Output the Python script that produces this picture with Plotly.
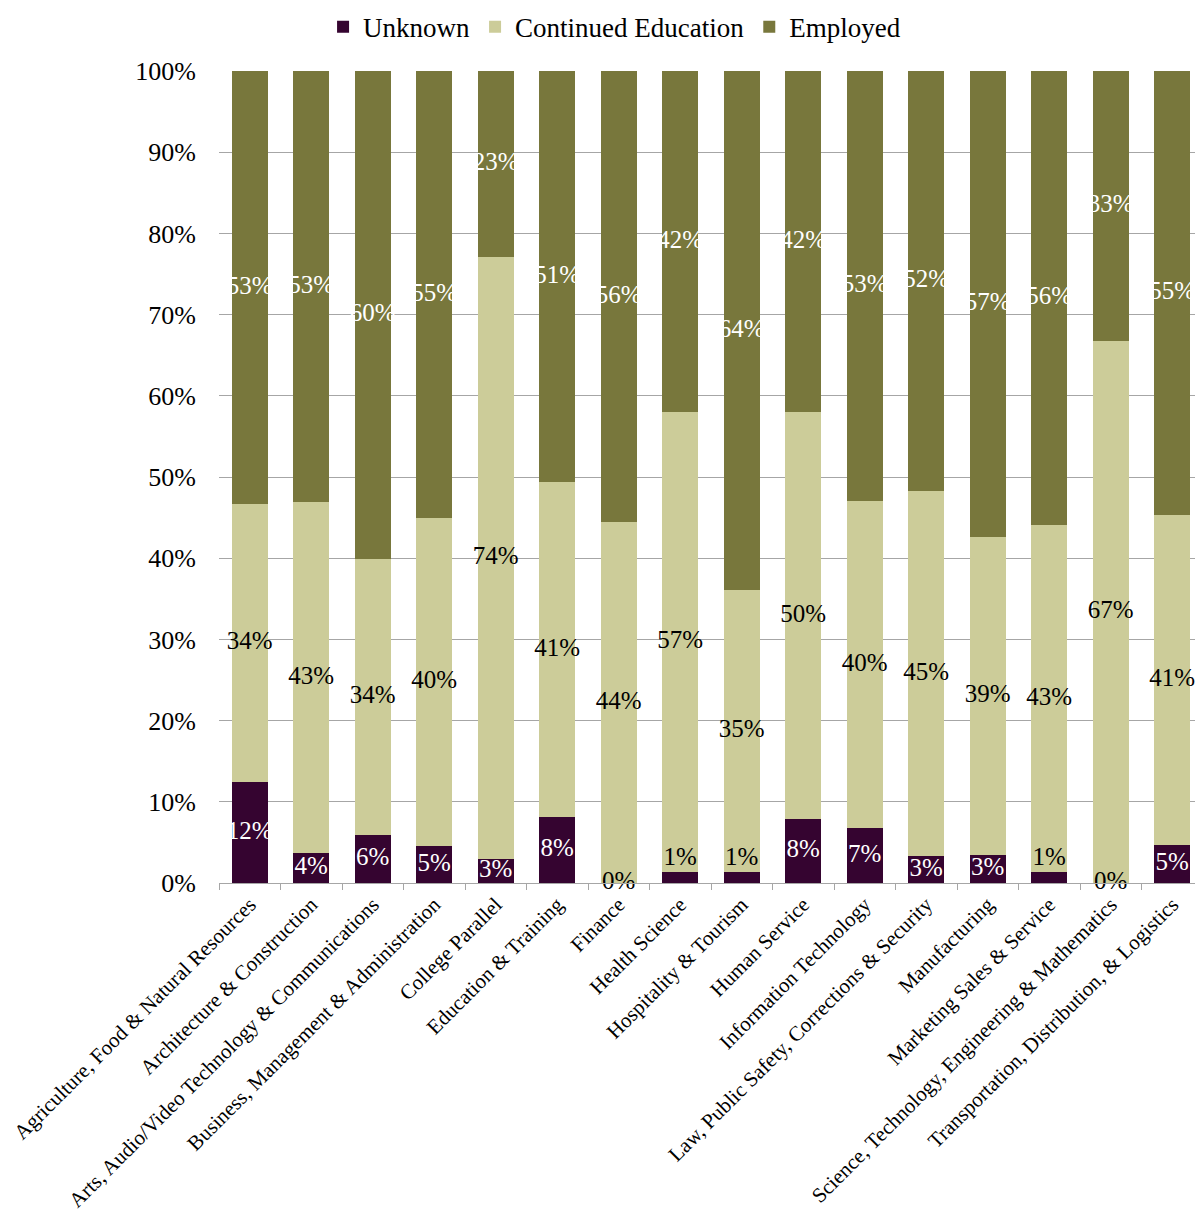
import plotly.graph_objects as go

categories = [
    "Agriculture, Food & Natural Resources",
    "Architecture & Construction",
    "Arts, Audio/Video Technology & Communications",
    "Business, Management & Administration",
    "College Parallel",
    "Education & Training",
    "Finance",
    "Health Science",
    "Hospitality & Tourism",
    "Human Service",
    "Information Technology",
    "Law, Public Safety, Corrections & Security",
    "Manufacturing",
    "Marketing Sales & Service",
    "Science, Technology, Engineering & Mathematics",
    "Transportation, Distribution, & Logistics",
]
unknown = [12.4, 3.7, 5.9, 4.6, 3.0, 8.1, 0.0, 1.4, 1.4, 7.9, 6.8, 3.3, 3.4, 1.4, 0.0, 4.7]
continued = [34.3, 43.2, 34.0, 40.4, 74.1, 41.3, 44.4, 56.6, 34.7, 50.1, 40.2, 45.0, 39.2, 42.7, 66.7, 40.6]
employed = [53.3, 53.1, 60.1, 55.0, 22.9, 50.6, 55.6, 42.0, 63.9, 42.0, 53.0, 51.7, 57.4, 55.9, 33.3, 54.7]
tick_vals = [0, 10, 20, 30, 40, 50, 60, 70, 80, 90, 100]
tick_text = ["0%", "10%", "20%", "30%", "40%", "50%", "60%", "70%", "80%", "90%", "100%"]

FONT = "Liberation Serif, Times New Roman, serif"
C_UNK = "#350430"
C_CONT = "#cccc99"
C_EMP = "#78773c"

fig = go.Figure()
series = [("Unknown", unknown, C_UNK), ("Continued Education", continued, C_CONT), ("Employed", employed, C_EMP)]
for name, vals, col in series:
    fig.add_trace(go.Bar(x=categories, y=vals, name=name, marker=dict(color=col, line=dict(width=0))))

# labels centered on each segment
base = [0.0] * len(categories)
for name, vals, col in series:
    ys, pos, colors = [], [], []
    for b, v in zip(base, vals):
        if name == "Unknown" and 0 < v < 2:
            ys.append(b + v)
            pos.append("top center")
            colors.append("black")
        else:
            ys.append(b + v / 2)
            pos.append("middle center")
            if name == "Unknown":
                colors.append("white" if v > 0 else "black")
            elif name == "Continued Education":
                colors.append("black")
            else:
                colors.append("white")
    texts = [f"{round(v):.0f}%" for v in vals]
    fig.add_trace(go.Scatter(x=categories, y=ys, mode="text", text=texts, textposition=pos,
                             textfont=dict(family=FONT, size=25, color=colors),
                             showlegend=False, hoverinfo="skip", cliponaxis=False))
    base = [b + v for b, v in zip(base, vals)]

fig.update_layout(
    width=1195, height=1208,
    barmode="stack", bargap=0.415,
    margin=dict(l=211, r=0, t=63, b=333, autoexpand=False),
    plot_bgcolor="white", paper_bgcolor="white",
    font=dict(family=FONT, color="black"),
    legend=dict(orientation="h", x=0.402, xanchor="center", y=1.084, yanchor="top",
                font=dict(family=FONT, size=27), traceorder="normal", itemwidth=30,
                bgcolor="rgba(0,0,0,0)"),
    showlegend=True,
)
fig.update_yaxes(range=[0, 100], tickvals=tick_vals, ticktext=tick_text, automargin=False,
                 tickfont=dict(family=FONT, size=26), showgrid=True, gridcolor="#a6a6a6",
                 gridwidth=1, showline=False, zeroline=False, ticks="", ticklabelstandoff=22)
fig.update_xaxes(range=[-0.5, len(categories) - 0.5], tickangle=-45, tickfont=dict(family=FONT, size=21),
                 showline=True, automargin=False,
                 linecolor="#a6a6a6", linewidth=1, ticks="outside", tickson="boundaries",
                 ticklen=6, tickcolor="#a6a6a6", showgrid=False)

fig.write_html("out.html")
